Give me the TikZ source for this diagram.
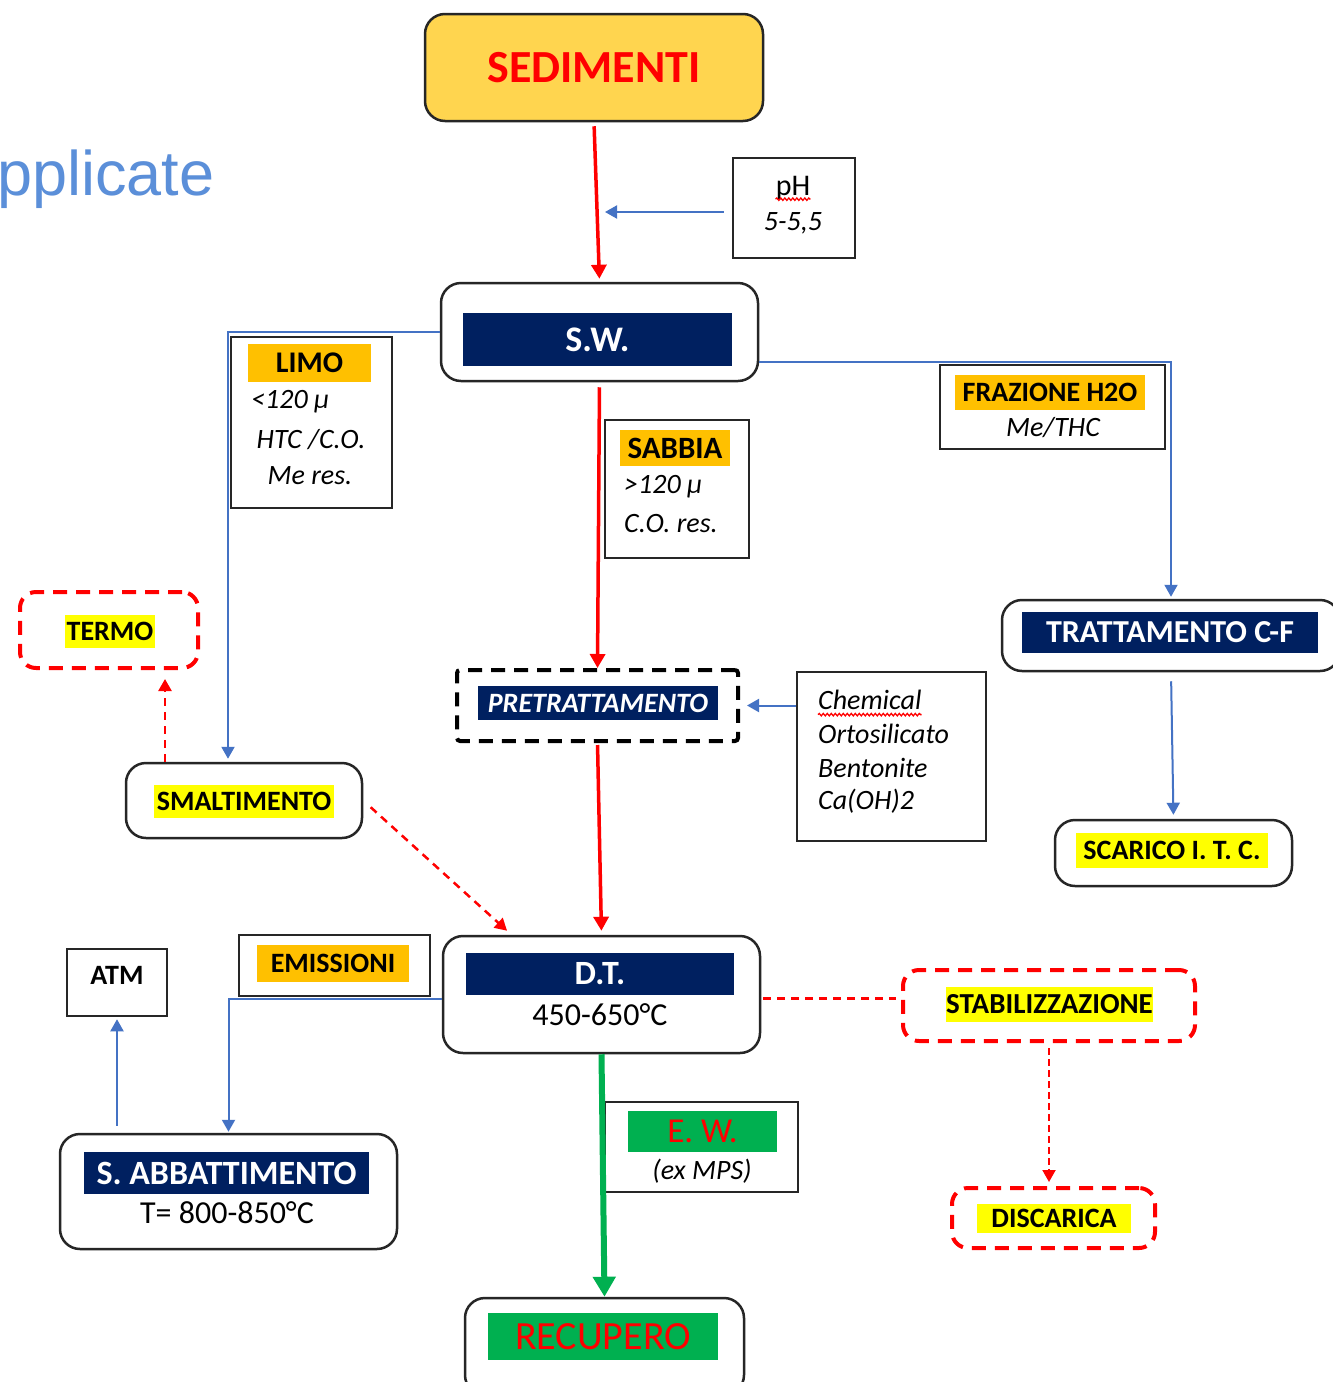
\documentclass[tikz,border=0pt]{standalone}
\usepackage{fontspec}
\setmainfont{Carlito}
\newfontfamily\helv{Liberation Sans}
\usetikzlibrary{arrows.meta,decorations.pathmorphing}

\definecolor{navy}{HTML}{002060}
\definecolor{lineblue}{HTML}{4472C4}
\definecolor{gold}{HTML}{FFD54F}
\definecolor{hlorange}{HTML}{FFC000}
\definecolor{hlyellow}{HTML}{FFFF00}
\definecolor{okgreen}{HTML}{00B050}
\definecolor{titleblue}{HTML}{5B8FD9}

\begin{document}
\begin{tikzpicture}
            [
            x = 1pt, y = -1pt,
            every node/.style = {inner sep = 0pt},
            ]
            \tikzstyle{round box}=[draw=black!85,line width=2.5pt,rounded corners=20pt,fill=white]
            \tikzstyle{note box}=[draw=black!85,line width=2.5pt,fill=white]
            \tikzstyle{red box}=[draw=red,line width=4pt,dash pattern=on 14pt off 9pt,rounded corners=16pt]
            \tikzstyle{black box}=[draw=black,line width=4pt,dash pattern=on 14pt off 9pt,rounded corners=3pt]
            \tikzstyle{navy bar}=[fill=navy,text=white,font=\bfseries\fontsize{34}{40}\selectfont]
            \tikzstyle{hl bar}=[font=\bfseries\fontsize{28}{34}\selectfont]
            \tikzstyle{note text}=[font=\itshape\fontsize{28}{34}\selectfont]
            \tikzstyle{plain text}=[font=\fontsize{32}{36}\selectfont]
            \tikzstyle{red line}=[red,line width=3.5pt,-{Triangle[length=14pt,width=15pt]}]
            \tikzstyle{blue line}=[lineblue,line width=2pt,-{Triangle[length=12pt,width=13pt]}]
            \tikzstyle{green line}=[okgreen,line width=6pt,-{Triangle[length=20pt,width=22pt]}]
            \tikzstyle{red dash}=[red,line width=2.5pt,dash pattern=on 8pt off 6pt]
            \tikzstyle{squiggle}=[red,line width=1.3pt,decorate,decoration={snake,amplitude=1.2pt,segment length=4pt}]

            \clip (0,0) rectangle (1333,1382);
            \fill[white] (0,0) rectangle (1333,1382);

            \node[anchor=base west, text=titleblue, font=\helv\fontsize{63}{70}\selectfont] (title) at (-3,195) {pplicate};

            % top of the flow
            \node[round box, fill=gold, minimum width=338, minimum height=107, text=red,
                  font=\bfseries\fontsize{46}{50}\selectfont] (sed) at (594,67.5) {SEDIMENTI};
            \node[note box, minimum width=122, minimum height=100] (ph) at (794,208) {};
            \node[font=\fontsize{30}{34}\selectfont] (phtop) at (793,188) {pH};
            \node[note text] (phval) at (793,223) {5-5,5};
            \coordinate (phin) at (605,212);

            \node[round box, minimum width=317, minimum height=98] (sw) at (599.5,332) {};
            \node[navy bar, minimum width=269, minimum height=53, font=\bfseries\fontsize{36}{40}\selectfont] (swlab) at (597.5,339.5) {S.W.};

            % fractions
            \node[note box, minimum width=161, minimum height=171] (limo) at (311.5,422.5) {};
            \node[hl bar, fill=hlorange, minimum width=123, minimum height=38, font=\bfseries\fontsize{30}{34}\selectfont] (limot) at (309.5,363) {LIMO};
            \node[note text, anchor=west] (limoa) at (251,402) {<120 µ};
            \node[note text] (limob) at (311,440) {HTC /C.O.};
            \node[note text] (limoc) at (310,476) {Me res.};

            \node[note box, minimum width=144, minimum height=138] (sabbia) at (677,489) {};
            \node[hl bar, fill=hlorange, minimum width=110, minimum height=36, font=\bfseries\fontsize{31}{34}\selectfont] (sabbiat) at (675,448) {SABBIA};
            \node[note text, anchor=west] (sabbiaa) at (624,487) {>120 µ};
            \node[note text, anchor=west] (sabbiab) at (624,524) {C.O. res.};

            \node[note box, minimum width=225, minimum height=84] (fraz) at (1052.5,407) {};
            \node[hl bar, fill=hlorange, minimum width=190, minimum height=35] (frazt) at (1050,392.5) {FRAZIONE H2O};
            \node[note text] (fraza) at (1053,428) {Me/THC};

            \node[round box, minimum width=338, minimum height=71] (tratt) at (1171,635.5) {};
            \node[navy bar, minimum width=296, minimum height=41, font=\bfseries\fontsize{32}{36}\selectfont] (trattlab) at (1170,632.5) {TRATTAMENTO C-F};
            \node[round box, minimum width=237, minimum height=66] (scar) at (1173.5,853) {};
            \node[hl bar, fill=hlyellow, minimum width=192, minimum height=35] (scart) at (1172,850.5) {SCARICO I. T. C.};

            \node[red box, minimum width=178, minimum height=76] (termo) at (109,630) {};
            \node[hl bar, fill=hlyellow, minimum width=90, minimum height=33] (termot) at (110,631.5) {TERMO};
            \node[round box, minimum width=236, minimum height=75] (smalt) at (244,800.5) {};
            \node[hl bar, fill=hlyellow, minimum width=180, minimum height=33] (smaltt) at (244,801) {SMALTIMENTO};

            \node[black box, minimum width=281, minimum height=71] (pretr) at (597.5,705.5) {};
            \node[navy bar, minimum width=240, minimum height=34, font=\bfseries\itshape\fontsize{28}{32}\selectfont] (pretrlab) at (598,703) {PRETRATTAMENTO};
            \node[note box, minimum width=189, minimum height=169] (chem) at (891.5,756.5) {};
            \node[note text, anchor=west] (chema) at (818,700) {Chemical};
            \node[note text, anchor=west] (chemb) at (818,734) {Ortosilicato};
            \node[note text, anchor=west] (chemc) at (818,768) {Bentonite};
            \node[note text, anchor=west] (chemd) at (818,801) {Ca(OH)2};

            % thermal desorption
            \node[round box, minimum width=317, minimum height=117] (dt) at (601.5,994.5) {};
            \node[navy bar, minimum width=268, minimum height=42] (dtlab) at (600,974) {D.T.};
            \node[plain text] (dttemp) at (600,1015) {450-650°C};

            \node[note box, minimum width=191, minimum height=61] (emis) at (334.5,965.5) {};
            \node[hl bar, fill=hlorange, minimum width=152, minimum height=37] (emist) at (333,963.5) {EMISSIONI};
            \node[note box, minimum width=100, minimum height=67] (atm) at (117,982.5) {};
            \node[hl bar] (atmt) at (117,975) {ATM};
            \node[round box, minimum width=337, minimum height=115] (sabb) at (228.5,1191.5) {};
            \node[navy bar, minimum width=285, minimum height=42] (sabblab) at (226.5,1173) {S. ABBATTIMENTO};
            \node[plain text] (sabbtemp) at (227,1213) {T= 800-850°C};

            \node[red box, minimum width=292, minimum height=71] (stab) at (1049,1005.5) {};
            \node[hl bar, fill=hlyellow, minimum width=207, minimum height=35, font=\bfseries\fontsize{29}{34}\selectfont] (stabt) at (1049.5,1004.5) {STABILIZZAZIONE};
            \node[red box, minimum width=203, minimum height=60] (disc) at (1053.5,1218) {};
            \node[hl bar, fill=hlyellow, minimum width=154, minimum height=29] (disct) at (1054,1218.5) {DISCARICA};

            \node[note box, minimum width=193, minimum height=90] (ew) at (701.5,1147) {};
            \node[fill=okgreen, text=red, minimum width=149, minimum height=41, font=\fontsize{35}{38}\selectfont] (ewt) at (702.5,1131.5) {E. W.};
            \node[note text] (ewa) at (702,1171) {(ex MPS)};
            \node[round box, minimum width=279, minimum height=97] (recup) at (604.5,1346.5) {};
            \node[fill=okgreen, text=red, minimum width=230, minimum height=47, font=\fontsize{40}{44}\selectfont] (recupt) at (603,1336.5) {RECUPERO};

            % spell-check marks
            \draw[squiggle] ([yshift=-4pt]phtop.base west) -- ([yshift=-4pt]phtop.base east);
            \draw[squiggle] ([yshift=-5pt]chema.base west) -- ([yshift=-5pt]chema.base east);

            % connectors
            \draw[red line, shorten <=4pt, shorten >=3pt] (sed.south) -- (sw.north);
            \draw[blue line, shorten <=8pt] (ph.west |- phin) -- (phin);
            \draw[red line, shorten <=5pt] (sw.south) -- (pretr.north);
            \draw[red line, shorten <=2pt, shorten >=4pt] (pretr.south) -- (dt.north);
            \draw[green line] (dt.south) -- (recup.north);
            \draw[blue line, shorten >=3pt] (sw.west) -| ([xshift=-16pt]smalt.north);
            \draw[blue line, shorten >=2pt] ([yshift=-30pt]sw.east) -| (tratt.north);
            \draw[blue line, shorten <=9pt, shorten >=4pt] (tratt.south) -- (scar.north);
            \draw[blue line, shorten >=7pt] (chem.west |- pretr.east) -- (pretr.east);
            \draw[red dash, -{Triangle[length=12pt,width=13pt]}, shorten >=9pt] ([xshift=-79pt]smalt.north) -- ([xshift=56pt]termo.south);
            \draw[red dash, -{Triangle[length=12pt,width=13pt]}, shorten <=10pt, shorten >=6pt] (smalt.east) -- ([xshift=-90pt]dt.north);
            \draw[blue line, shorten >=1pt] ([yshift=-4pt]dt.west) -| (sabb.north);
            \draw[blue line, shorten <=7pt, shorten >=2pt] (atm.south |- sabb.north) -- (atm.south);
            \draw[red dash, shorten <=2pt, shorten >=5pt] ([yshift=-4pt]dt.east) -- ([yshift=-4pt]dt.east -| stab.west);
            \draw[red dash, line width=2pt, dash pattern=on 7pt off 4pt, -{Triangle[length=12pt,width=13pt]}, shorten <=5pt, shorten >=4pt] (stab.south) -- (stab.south |- disc.north);
\end{tikzpicture}
\end{document}
